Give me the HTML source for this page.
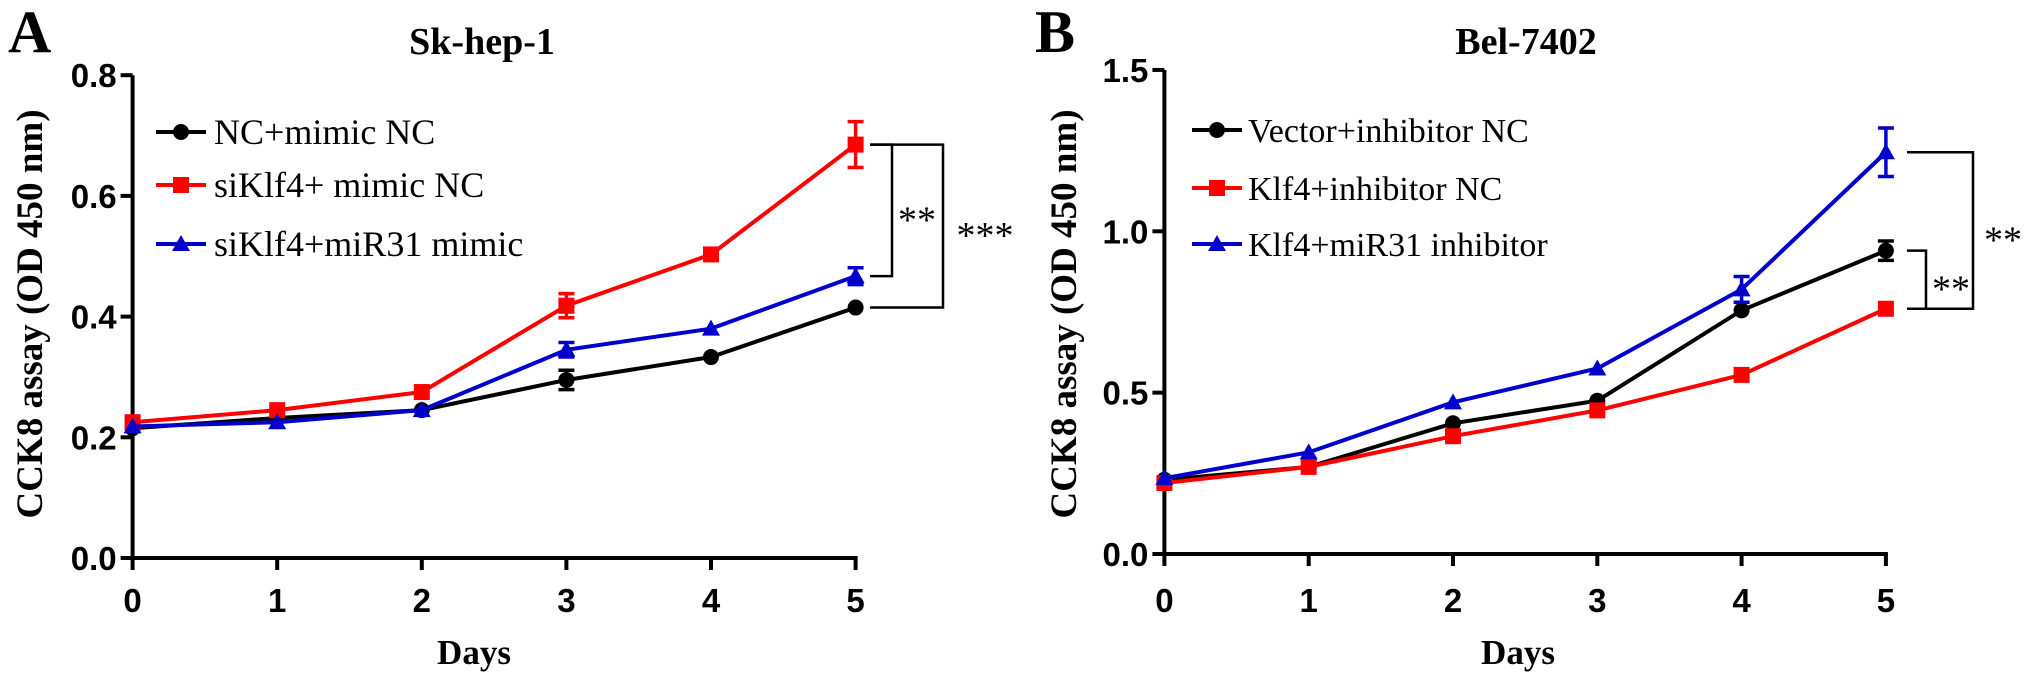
<!DOCTYPE html>
<html><head><meta charset="utf-8"><style>
html,body{margin:0;padding:0;background:#fff;width:2031px;height:685px;overflow:hidden}
svg{display:block}
.tick{font-family:"Liberation Sans",Arial,sans-serif;font-weight:bold;font-size:33px}
.serifb{font-family:"Liberation Serif",serif;font-weight:bold}
.leg{font-family:"Liberation Serif",serif}
</style></head><body>
<svg id="chart" width="2031" height="685" viewBox="0 0 2031 685" xmlns="http://www.w3.org/2000/svg"></svg>
<script>
const days = [0,1,2,3,4,5];
// Panel A (Sk-hep-1)
const aTicks = [0.0,0.2,0.4,0.6,0.8];
const aTickLabels = ["0.0","0.2","0.4","0.6","0.8"];
const aBlack = [0.215,0.232,0.245,0.295,0.333,0.415];
const aBlackErr = [0.004,0.004,0.004,0.016,0.004,0.005];
const aRed = [0.225,0.245,0.275,0.418,0.503,0.685];
const aRedErr = [0.004,0.006,0.006,0.02,0.005,0.038];
const aBlue = [0.218,0.225,0.245,0.345,0.38,0.467];
const aBlueErr = [0.004,0.004,0.004,0.012,0.004,0.014];
const aLegend = ["NC+mimic NC","siKlf4+ mimic NC","siKlf4+miR31 mimic"];
// Panel B (Bel-7402)
const bTicks = [0.0,0.5,1.0,1.5];
const bTickLabels = ["0.0","0.5","1.0","1.5"];
const bBlack = [0.23,0.27,0.405,0.475,0.755,0.94];
const bBlackErr = [0.006,0.006,0.008,0.008,0.015,0.03];
const bRed = [0.22,0.27,0.365,0.445,0.555,0.76];
const bRedErr = [0.006,0.006,0.006,0.006,0.01,0.01];
const bBlue = [0.235,0.315,0.47,0.575,0.82,1.245];
const bBlueErr = [0.006,0.006,0.008,0.008,0.04,0.075];
const bLegend = ["Vector+inhibitor NC","Klf4+inhibitor NC","Klf4+miR31 inhibitor"];

const svg = document.getElementById('chart');
const NS = 'http://www.w3.org/2000/svg';
function mk(tag, attrs, text){
  const e = document.createElementNS(NS, tag);
  for (const k in attrs) e.setAttribute(k, attrs[k]);
  if (text !== undefined) e.textContent = text;
  svg.appendChild(e);
  return e;
}
const COL = {black:'#000', red:'#ff0000', blue:'#0000cc'};

function marker(kind, x, y, c){
  let e;
  if (kind==='circle') e = mk('circle',{cx:x,cy:y,r:8,fill:c});
  else if (kind==='square') e = mk('rect',{x:x-8,y:y-8,width:16,height:16,fill:c});
  else e = mk('polygon',{points:`${x},${y-9} ${x+9},${y+7} ${x-9},${y+7}`,fill:c});
  return e;
}

function panel(p){
  const xs = d => p.x0 + d*p.step;
  const ys = v => p.y0 - v*p.scale;
  let ax = mk('line',{x1:p.x0,y1:ys(p.ymax),x2:p.x0,y2:p.y0+2,stroke:'#000','stroke-width':4});
  
  
  ax = mk('line',{x1:p.x0-2,y1:p.y0,x2:xs(5)+2,y2:p.y0,stroke:'#000','stroke-width':4});
  
  
  p.ticks.forEach((t,i)=>{
    mk('line',{x1:p.x0-12,y1:ys(t),x2:p.x0,y2:ys(t),stroke:'#000','stroke-width':4});
    const l = mk('text',{x:p.x0-16,y:ys(t)+12,'text-anchor':'end',class:'tick'},p.tickLabels[i]);
    
    
  });
  days.forEach(d=>{
    mk('line',{x1:xs(d),y1:p.y0,x2:xs(d),y2:p.y0+12,stroke:'#000','stroke-width':4});
    const l = mk('text',{x:xs(d),y:612,'text-anchor':'middle',class:'tick'},String(d));
    
    
  });
  p.series.forEach(s=>{
    const pts = s.vals.map((v,i)=>`${xs(days[i])},${ys(v)}`).join(' ');
    const line = mk('polyline',{points:pts,fill:'none',stroke:COL[s.color],'stroke-width':4});
    
    
    s.vals.forEach((v,i)=>{
      const x = xs(days[i]), e = s.err[i];
      if (e*p.scale > 6){
        mk('line',{x1:x,y1:ys(v+e),x2:x,y2:ys(v-e),stroke:COL[s.color],'stroke-width':3.5});
        mk('line',{x1:x-8,y1:ys(v+e),x2:x+8,y2:ys(v+e),stroke:COL[s.color],'stroke-width':3.5});
        mk('line',{x1:x-8,y1:ys(v-e),x2:x+8,y2:ys(v-e),stroke:COL[s.color],'stroke-width':3.5});
      }
      const m = marker(s.marker, x, ys(v), COL[s.color]);
      
      
    });
  });
  p.series.forEach((s,i)=>{
    const y = p.legY[i];
    mk('line',{x1:p.legX,y1:y,x2:p.legX+50,y2:y,stroke:COL[s.color],'stroke-width':4});
    marker(s.marker,p.legX+25,y,COL[s.color]);
    const t = mk('text',{x:p.legX+p.legTextDx,y:y+12,class:'leg','font-size':p.legFont},p.legend[i]);
    
    
  });
  let t = mk('text',{x:p.letterX,y:52,class:'serifb','font-size':60},p.letter);
   
  t = mk('text',{x:p.titleX,y:54,class:'serifb','font-size':38,'text-anchor':'middle'},p.title);
   
  t = mk('text',{x:p.titleX - 8,y:664,class:'serifb','font-size':35,'text-anchor':'middle'},'Days');
   
  t = mk('text',{x:0,y:0,class:'serifb','font-size':37,'text-anchor':'middle',transform:`translate(${p.yTitleX},314) rotate(-90)`},'CCK8  assay (OD 450 nm)');
   
  return {xs, ys};
}

function bracket(x1, yTop, yBot, xv, label, lx, id){
  const pl = mk('polyline',{points:`${x1},${yTop} ${xv},${yTop} ${xv},${yBot} ${x1},${yBot}`,fill:'none',stroke:'#000','stroke-width':2.5});
   
  const t = mk('text',{x:lx,y:(yTop+yBot)/2+22,'text-anchor':'middle','font-family':'Liberation Serif, serif','font-size':38},label);
   
}

const A = panel({id:'panel-a',x0:132.6,step:144.6,y0:558,scale:603.5,ymax:0.8,ticks:aTicks,tickLabels:aTickLabels,
  series:[{vals:aBlack,err:aBlackErr,color:'black',marker:'circle'},{vals:aRed,err:aRedErr,color:'red',marker:'square'},{vals:aBlue,err:aBlueErr,color:'blue',marker:'triangle'}],
  legend:aLegend,legFont:36,legX:156,legTextDx:58,legY:[132,185,244],letter:'A',letterX:8,title:'Sk-hep-1',titleX:482,yTitleX:42});
bracket(870, A.ys(aRed[5]), A.ys(aBlue[5]), 892, '**', 917, 'panel-a-inner');
bracket(870, A.ys(aRed[5]), A.ys(aBlack[5]), 943, '***', 985, 'panel-a-outer');

const B = panel({id:'panel-b',x0:1164.4,step:144.3,y0:554,scale:322.7,ymax:1.5,ticks:bTicks,tickLabels:bTickLabels,
  series:[{vals:bBlack,err:bBlackErr,color:'black',marker:'circle'},{vals:bRed,err:bRedErr,color:'red',marker:'square'},{vals:bBlue,err:bBlueErr,color:'blue',marker:'triangle'}],
  legend:bLegend,legFont:34,legX:1192,legTextDx:56,legY:[130,188,244],letter:'B',letterX:1035,title:'Bel-7402',titleX:1526,yTitleX:1076});
bracket(1907, B.ys(bBlue[5]), B.ys(bRed[5]), 1973, '**', 2003, 'panel-b-outer');
bracket(1907, B.ys(bBlack[5]), B.ys(bRed[5]), 1926, '**', 1951, 'panel-b-inner');
</script>
</body></html>
